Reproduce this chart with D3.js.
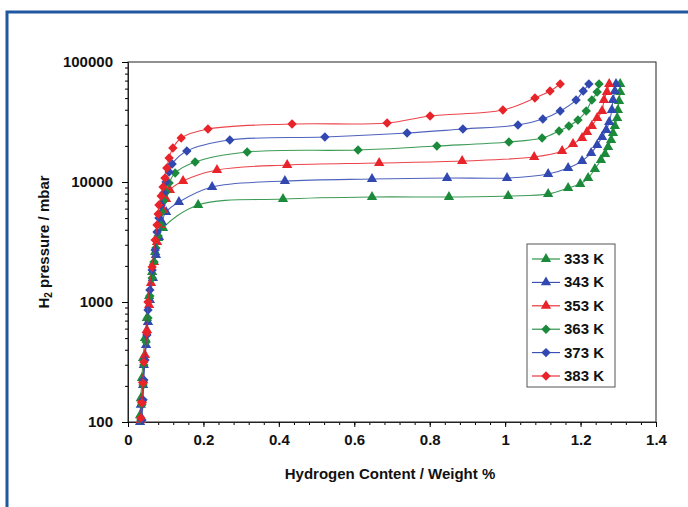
<!DOCTYPE html>
<html>
<head>
<meta charset="utf-8">
<script src="https://cdn.jsdelivr.net/npm/d3@7"></script>
<style>
  body { margin: 0; background: #fff; }
  text { font-family: "Liberation Sans", Arial, sans-serif; font-weight: bold; fill: #111; }
</style>
</head>
<body>
<div id="chart"></div>
<script>
// series data: [hydrogen content wt%, pressure mbar]
const k333 = [[0.032,114],[0.034,158],[0.037,233],[0.040,341],[0.045,501],[0.050,736],[0.056,1122],[0.064,1778],[0.072,2610],[0.080,3415],[0.093,4140],[0.186,6430],[0.411,7210],[0.647,7500],[0.851,7500],[1.008,7640],[1.114,7940],[1.167,8910],[1.199,9620],[1.220,10800],[1.238,12830],[1.254,15250],[1.265,17100],[1.273,19580],[1.281,22390],[1.286,25600],[1.291,29290],[1.297,34150],[1.299,39810],[1.302,47300],[1.305,56230],[1.305,65600]];
const k343 = [[0.032,100],[0.034,139],[0.040,203],[0.042,299],[0.048,438],[0.053,681],[0.058,1039],[0.066,1585],[0.074,2466],[0.082,3481],[0.090,4642],[0.101,5623],[0.135,6810],[0.223,9090],[0.416,10190],[0.647,10590],[0.846,10800],[1.005,10800],[1.114,11660],[1.167,13090],[1.204,14960],[1.228,17450],[1.244,20320],[1.257,23710],[1.268,27130],[1.276,31620],[1.283,39810],[1.286,48200],[1.291,57300],[1.294,65600]];
const k353 = [[0.034,104],[0.037,153],[0.040,224],[0.045,362],[0.050,584],[0.056,944],[0.061,1439],[0.069,2154],[0.077,3162],[0.085,4385],[0.093,5848],[0.101,7210],[0.111,8580],[0.146,10190],[0.236,12590],[0.422,13870],[0.666,14400],[0.886,14960],[1.077,16150],[1.151,18130],[1.180,20730],[1.204,23270],[1.217,26100],[1.230,29290],[1.244,34150],[1.257,39070],[1.262,48200],[1.270,56230],[1.276,65600]];
const k363 = [[0.034,104],[0.037,139],[0.040,203],[0.042,299],[0.048,464],[0.053,736],[0.058,1122],[0.064,1585],[0.069,2154],[0.074,2818],[0.080,3548],[0.085,4467],[0.090,5623],[0.095,6950],[0.101,8260],[0.109,9810],[0.125,11890],[0.178,14680],[0.316,17780],[0.610,18480],[0.819,19950],[1.010,21540],[1.098,23270],[1.143,26610],[1.169,29290],[1.193,32870],[1.215,39070],[1.230,48200],[1.244,56230],[1.249,65600]];
const k373 = [[0.037,104],[0.040,153],[0.042,224],[0.045,329],[0.050,531],[0.053,858],[0.058,1259],[0.064,1848],[0.072,2712],[0.077,3831],[0.082,5012],[0.088,6430],[0.095,8090],[0.101,10000],[0.109,12110],[0.117,14130],[0.156,18130],[0.270,22390],[0.522,23710],[0.740,25600],[0.888,27650],[1.034,29850],[1.100,33500],[1.146,39070],[1.188,48200],[1.207,57300],[1.222,65600]];
const k383 = [[0.034,108],[0.037,144],[0.040,211],[0.042,316],[0.050,552],[0.053,1000],[0.064,1958],[0.072,3286],[0.077,4385],[0.080,5412],[0.082,6430],[0.088,7640],[0.093,9080],[0.098,10800],[0.103,13090],[0.109,15850],[0.119,19190],[0.141,23270],[0.212,27650],[0.435,30430],[0.687,31030],[0.801,35480],[0.994,39810],[1.079,50120],[1.119,57300],[1.146,65600]];

const seriesNames = ["333 K", "343 K", "353 K", "363 K", "373 K", "383 K"];
const seriesData = [k333, k343, k353, k363, k373, k383];
const seriesColors = ["#1b8a3a", "#3048b0", "#e8232a", "#1b8a3a", "#3048b0", "#e8232a"];
const seriesShapes = ["triangle", "triangle", "triangle", "diamond", "diamond", "diamond"];

const xTicks = [0, 0.2, 0.4, 0.6, 0.8, 1, 1.2, 1.4];
const yTicks = [100, 1000, 10000, 100000];

const width = 688, height = 507;
const plotLeft = 128, plotRight = 656, plotTop = 62, plotBottom = 422;
const fontSize = "15px";

const svg = d3.select("#chart")
    .append("svg")
    .attr("width", width)
    .attr("height", height);

// blue frame
svg.append("path")
    .attr("d", `M7,${height + 5} L7,12 L${width + 5},12`)
    .attr("fill", "none")
    .attr("stroke", "#1f58a0")
    .attr("stroke-width", 3);

const x = d3.scaleLinear().domain([0, 1.4]).range([plotLeft, plotRight]);
const y = d3.scaleLog().domain([100, 100000]).range([plotBottom, plotTop]);

// plot box
svg.append("rect")
    .attr("x", plotLeft)
    .attr("y", plotTop)
    .attr("width", plotRight - plotLeft)
    .attr("height", plotBottom - plotTop)
    .attr("fill", "none")
    .attr("stroke", "#222")
    .attr("stroke-width", 1);

// minor ticks y
const yMinor = [];
for (let d = 100; d < 100000; d *= 10) {
    for (let m = 2; m <= 9; m++) yMinor.push(d * m);
}
svg.append("g")
    .attr("transform", `translate(${plotLeft},0)`)
    .call(d3.axisLeft(y).tickValues(yMinor).tickSize(3).tickFormat(""))
    .call(g => g.select(".domain").remove());

svg.append("g")
    .attr("transform", `translate(${plotLeft},0)`)
    .call(d3.axisLeft(y).tickValues(yTicks).tickSize(6).tickPadding(9).tickFormat(d3.format("d")))
    .call(g => g.selectAll("text").style("font-size", fontSize).style("font-family", "Liberation Sans, Arial, sans-serif").style("font-weight", "bold"))
    .call(g => g.select(".domain").attr("stroke", "#222"));

// minor ticks x
const xMinor = d3.range(0, 1.4001, 0.04);
svg.append("g")
    .attr("transform", `translate(0,${plotBottom})`)
    .call(d3.axisBottom(x).tickValues(xMinor).tickSize(3).tickFormat(""))
    .call(g => g.select(".domain").remove());

svg.append("g")
    .attr("transform", `translate(0,${plotBottom})`)
    .call(d3.axisBottom(x).tickValues(xTicks).tickSize(5).tickPadding(7).tickFormat(d3.format("")))
    .call(g => g.selectAll("text").style("font-size", fontSize).style("font-family", "Liberation Sans, Arial, sans-serif").style("font-weight", "bold"))
    .call(g => g.select(".domain").attr("stroke", "#222"));

// axis titles
svg.append("text")
    .attr("x", 390)
    .attr("y", 479)
    .attr("text-anchor", "middle")
    .style("font-size", fontSize)
    .text("Hydrogen Content / Weight %");

const yTitle = svg.append("text")
    .attr("transform", "translate(49,242) rotate(-90)")
    .attr("text-anchor", "middle")
    .style("font-size", fontSize);
yTitle.append("tspan").text("H");
yTitle.append("tspan").attr("dy", 3).style("font-size", "10px").text("2");
yTitle.append("tspan").attr("dy", -3).text(" pressure / mbar");

function symbolFor(shape) {
    return shape === "triangle"
        ? d3.symbol().type(d3.symbolTriangle).size(46)
        : d3.symbol().type(d3.symbolSquare).size(44);
}

const line = d3.line()
    .x(d => x(d[0]))
    .y(d => y(d[1]))
    .curve(d3.curveCatmullRom.alpha(0.5));

const plot = svg.append("g");

seriesData.forEach(function (data, i) {
    plot.append("path")
        .datum(data)
        .attr("d", line)
        .attr("fill", "none")
        .attr("stroke", seriesColors[i])
        .attr("stroke-width", 1.1)
        .attr("opacity", 0.85);

    plot.selectAll(".m" + i)
        .data(data)
        .enter()
        .append("path")
        .attr("class", "m" + i)
        .attr("d", symbolFor(seriesShapes[i])())
        .attr("transform", function (d) {
            const rot = seriesShapes[i] === "diamond" ? " rotate(45)" : "";
            return `translate(${x(d[0])},${y(d[1])})` + rot;
        })
        .attr("fill", seriesColors[i]);
});

// legend
const legend = svg.append("g");
legend.append("rect")
    .attr("x", 527)
    .attr("y", 244)
    .attr("width", 88)
    .attr("height", 143)
    .attr("fill", "#fff")
    .attr("stroke", "#555")
    .attr("stroke-width", 1);

const legendRows = legend.selectAll(".row")
    .data(seriesNames)
    .enter()
    .append("g")
    .attr("class", "row")
    .attr("transform", (d, i) => `translate(0,${259 + i * 23.4})`);

legendRows.append("line")
    .attr("x1", 532)
    .attr("x2", 560)
    .attr("y1", 0)
    .attr("y2", 0)
    .attr("stroke", (d, i) => seriesColors[i])
    .attr("stroke-width", 1.1);

legendRows.append("path")
    .attr("d", (d, i) => symbolFor(seriesShapes[i])())
    .attr("transform", (d, i) => "translate(546,0)" + (seriesShapes[i] === "diamond" ? " rotate(45)" : ""))
    .attr("fill", (d, i) => seriesColors[i]);

legendRows.append("text")
    .attr("x", 564)
    .attr("y", 5)
    .style("font-size", fontSize)
    .text(d => d);
</script>
</body>
</html>
